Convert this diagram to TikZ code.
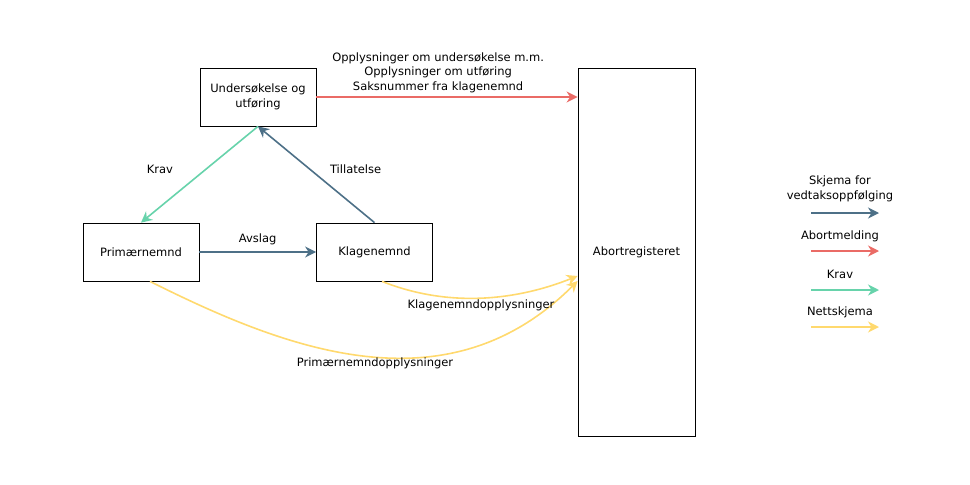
\documentclass[tikz,border=0pt]{standalone}
\usepackage{fontspec}
\setmainfont{DejaVu Sans}
\usetikzlibrary{arrows.meta}
\definecolor{vedtak}{RGB}{77,112,135}
\definecolor{abort}{RGB}{234,107,102}
\definecolor{krav}{RGB}{103,211,171}
\definecolor{nett}{RGB}{255,217,110}

\begin{document}
\begin{tikzpicture}[x=1pt,y=-1pt,font=\fontsize{11.5}{14.5}\selectfont,
  main node/.style={rectangle,draw,line width=0.8pt,minimum width=116pt,minimum height=58pt,align=center},
  flow/.style={line width=1.6pt,-{Stealth[length=11pt,width=11pt,inset=3.5pt]}}]
  \useasboundingbox (0,0) rectangle (970,485);
  \node[main node] (1) at (258,97) {Undersøkelse og\\utføring};
  \node[main node] (2) at (141,252) {Primærnemnd};
  \node[main node] (3) at (374.5,252) {Klagenemnd};
  \node[main node,minimum width=117pt,minimum height=368pt] (4) at (636.5,252) {Abortregisteret};

  \path[flow,every node/.style={text=black,align=center}]
    (1.east) edge[abort] node[above,pos=0.466] {Opplysninger om undersøkelse m.m.\\Opplysninger om utføring\\Saksnummer fra klagenemnd} (1.east -| 4.west)
    (1.south) edge[krav] node[pos=0.445,xshift=-46pt] {Krav} (2.north)
    (3.north) edge[vedtak] node[pos=0.557,xshift=46pt] {Tillatelse} (1.south)
    (2) edge[vedtak] node[above=3pt] {Avslag} (3);

  \draw[flow,nett] ([xshift=7.5pt]3.south) .. controls +(68,27) and +(-60,24) .. ([yshift=-24pt]4.west);
  \draw[flow,nett] ([xshift=9pt]2.south) .. controls +(132,66) and +(-132,132) .. ([yshift=-29pt]4.west);
  \node (5) at (481,305) {Klagenemndopplysninger};
  \node (6) at (375,363) {Primærnemndopplysninger};

  % forklaring
  \node[align=center] (k1) at (840,189) {Skjema for\\vedtaksoppfølging};
  \node (k2) at (840,236) {Abortmelding};
  \node (k3) at (840,274) {Krav};
  \node (k4) at (840,312) {Nettskjema};
  \coordinate (k1a) at (811,213); \coordinate (k1b) at (879,213);
  \coordinate (k2a) at (811,251); \coordinate (k2b) at (879,251);
  \coordinate (k3a) at (811,290); \coordinate (k3b) at (879,290);
  \coordinate (k4a) at (811,327); \coordinate (k4b) at (879,327);
  \draw[flow,vedtak] (k1a) -- (k1b);
  \draw[flow,abort] (k2a) -- (k2b);
  \draw[flow,krav] (k3a) -- (k3b);
  \draw[flow,nett] (k4a) -- (k4b);
\end{tikzpicture}
\end{document}
